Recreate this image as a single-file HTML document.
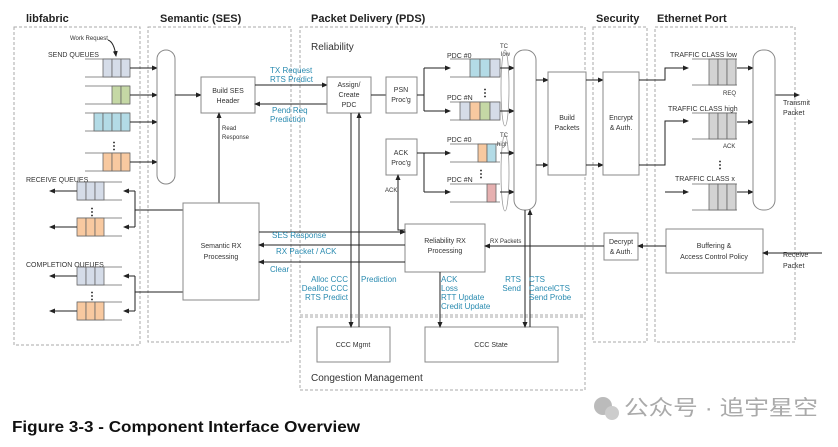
<!DOCTYPE html>
<html><head><meta charset="utf-8"><style>
html,body{margin:0;padding:0;background:#fff;}
svg{display:block;font-family:"Liberation Sans",sans-serif;}
.b{fill:#fff;stroke:#888;stroke-width:1}
.d{fill:none;stroke:#aaa;stroke-width:1;stroke-dasharray:3,2}
.l{stroke:#222;stroke-width:1;fill:none}
.t{font-size:7px;fill:#333}
.s{font-size:6px;fill:#333}
.c{font-size:8px;fill:#2a8bb0}
.h{font-size:11px;font-weight:bold;fill:#222}
</style></head><body>
<svg width="838" height="447" viewBox="0 0 838 447">
<defs><marker id="a" markerWidth="6" markerHeight="6" refX="5" refY="3" orient="auto"><path d="M0,0.5L6,3L0,5.5z" fill="#222"/></marker></defs>
<!-- panels -->
<rect class="d" x="14" y="27" width="126" height="318"/>
<rect class="d" x="148" y="27" width="143" height="315"/>
<rect class="d" x="300" y="27" width="285" height="288"/>
<rect class="d" x="300" y="317" width="285" height="73"/>
<rect class="d" x="593" y="27" width="54" height="315"/>
<rect class="d" x="655" y="27" width="140" height="315"/>
<text class="h" x="26" y="22">libfabric</text>
<text class="h" x="160" y="22">Semantic (SES)</text>
<text class="h" x="311" y="22">Packet Delivery (PDS)</text>
<text class="h" x="596" y="22">Security</text>
<text class="h" x="657" y="22">Ethernet Port</text>
<text x="311" y="50" style="font-size:10px;fill:#333">Reliability</text>
<text x="311" y="381" style="font-size:10px;fill:#333">Congestion Management</text>

<!-- send queues -->
<text class="s" x="70" y="40">Work Request</text>
<path class="l" d="M108,40 Q114,42 116,56" marker-end="url(#a)"/>
<text class="t" x="48" y="57">SEND QUEUES</text>
<g stroke="#666" stroke-width="0.8">
<line x1="85" y1="59" x2="130" y2="59"/><line x1="85" y1="77" x2="130" y2="77"/>
<rect x="103" y="59" width="9" height="18" fill="#d5dce8"/><rect x="112" y="59" width="9" height="18" fill="#d5dce8"/><rect x="121" y="59" width="9" height="18" fill="#d5dce8"/>
<line x1="85" y1="86" x2="130" y2="86"/><line x1="85" y1="104" x2="130" y2="104"/>
<rect x="112" y="86" width="9" height="18" fill="#c5d8a5"/><rect x="121" y="86" width="9" height="18" fill="#c5d8a5"/>
<line x1="85" y1="113" x2="130" y2="113"/><line x1="85" y1="131" x2="130" y2="131"/>
<rect x="94" y="113" width="9" height="18" fill="#b3dbe6"/><rect x="103" y="113" width="9" height="18" fill="#b3dbe6"/><rect x="112" y="113" width="9" height="18" fill="#b3dbe6"/><rect x="121" y="113" width="9" height="18" fill="#b3dbe6"/>
<line x1="85" y1="153" x2="130" y2="153"/><line x1="85" y1="171" x2="130" y2="171"/>
<rect x="103" y="153" width="9" height="18" fill="#f8c9a0"/><rect x="112" y="153" width="9" height="18" fill="#f8c9a0"/><rect x="121" y="153" width="9" height="18" fill="#f8c9a0"/>
</g>
<text x="109" y="149" style="font-size:10px;font-weight:bold">⋮</text>
<g class="l"><line x1="130" y1="68" x2="157" y2="68" marker-end="url(#a)"/><line x1="130" y1="95" x2="157" y2="95" marker-end="url(#a)"/><line x1="130" y1="122" x2="157" y2="122" marker-end="url(#a)"/><line x1="130" y1="162" x2="157" y2="162" marker-end="url(#a)"/></g>
<rect class="b" x="157" y="50" width="18" height="134" rx="9"/>
<line class="l" x1="175" y1="95" x2="201" y2="95" marker-end="url(#a)"/>
<rect class="b" x="201" y="77" width="54" height="36"/>
<text class="t" x="228" y="93" text-anchor="middle">Build SES</text><text class="t" x="228" y="103" text-anchor="middle">Header</text>
<line class="l" x1="255" y1="85" x2="327" y2="85" marker-end="url(#a)"/>
<line class="l" x1="327" y1="104" x2="255" y2="104" marker-end="url(#a)"/>
<text class="c" x="270" y="73">TX Request</text><text class="c" x="270" y="82">RTS Predict</text>
<text class="c" x="272" y="113">Pend Req</text><text class="c" x="270" y="122">Prediction</text>
<line class="l" x1="219" y1="203" x2="219" y2="113" marker-end="url(#a)"/>
<text class="s" x="222" y="130">Read</text><text class="s" x="222" y="139">Response</text>

<!-- receive / completion queues -->
<text class="t" x="26" y="182">RECEIVE QUEUES</text>
<text class="t" x="26" y="267">COMPLETION QUEUES</text>
<g stroke="#666" stroke-width="0.8">
<line x1="77" y1="182" x2="122" y2="182"/><line x1="77" y1="200" x2="122" y2="200"/>
<rect x="77" y="182" width="9" height="18" fill="#d5dce8"/><rect x="86" y="182" width="9" height="18" fill="#d5dce8"/><rect x="95" y="182" width="9" height="18" fill="#d5dce8"/>
<line x1="77" y1="218" x2="122" y2="218"/><line x1="77" y1="236" x2="122" y2="236"/>
<rect x="77" y="218" width="9" height="18" fill="#f8c9a0"/><rect x="86" y="218" width="9" height="18" fill="#f8c9a0"/><rect x="95" y="218" width="9" height="18" fill="#f8c9a0"/>
<line x1="77" y1="267" x2="122" y2="267"/><line x1="77" y1="285" x2="122" y2="285"/>
<rect x="77" y="267" width="9" height="18" fill="#d5dce8"/><rect x="86" y="267" width="9" height="18" fill="#d5dce8"/><rect x="95" y="267" width="9" height="18" fill="#d5dce8"/>
<line x1="77" y1="302" x2="122" y2="302"/><line x1="77" y1="320" x2="122" y2="320"/>
<rect x="77" y="302" width="9" height="18" fill="#f8c9a0"/><rect x="86" y="302" width="9" height="18" fill="#f8c9a0"/><rect x="95" y="302" width="9" height="18" fill="#f8c9a0"/>
</g>
<text x="87" y="215" style="font-size:10px;font-weight:bold">⋮</text>
<text x="87" y="299" style="font-size:10px;font-weight:bold">⋮</text>
<g class="l">
<line x1="77" y1="191" x2="50" y2="191" marker-end="url(#a)"/><line x1="77" y1="227" x2="50" y2="227" marker-end="url(#a)"/>
<line x1="77" y1="276" x2="50" y2="276" marker-end="url(#a)"/><line x1="77" y1="311" x2="50" y2="311" marker-end="url(#a)"/>
<path d="M135,191V227"/><line x1="135" y1="191" x2="124" y2="191" marker-end="url(#a)"/><line x1="135" y1="227" x2="124" y2="227" marker-end="url(#a)"/>
<path d="M135,276V311"/><line x1="135" y1="276" x2="124" y2="276" marker-end="url(#a)"/><line x1="135" y1="311" x2="124" y2="311" marker-end="url(#a)"/>
<line x1="135" y1="210" x2="183" y2="210"/><line x1="135" y1="292" x2="183" y2="292"/>
</g>
<rect class="b" x="183" y="203" width="76" height="97"/>
<text class="t" x="221" y="248" text-anchor="middle">Semantic RX</text><text class="t" x="221" y="259" text-anchor="middle">Processing</text>

<!-- Reliability RX -->
<rect class="b" x="405" y="224" width="80" height="48"/>
<text class="t" x="445" y="243" text-anchor="middle">Reliability RX</text><text class="t" x="445" y="253" text-anchor="middle">Processing</text>
<g class="l">
<line x1="259" y1="232" x2="405" y2="232" marker-end="url(#a)"/>
<line x1="405" y1="245" x2="259" y2="245" marker-end="url(#a)"/>
<line x1="405" y1="262" x2="259" y2="262" marker-end="url(#a)"/>
</g>
<text class="c" x="272" y="238">SES Response</text>
<text class="c" x="276" y="254">RX Packet / ACK</text>
<text class="c" x="270" y="272">Clear</text>

<!-- Assign / PSN / ACK -->
<rect class="b" x="327" y="77" width="44" height="36"/>
<text class="t" x="349" y="87" text-anchor="middle">Assign/</text><text class="t" x="349" y="97" text-anchor="middle">Create</text><text class="t" x="349" y="107" text-anchor="middle">PDC</text>
<line class="l" x1="371" y1="95" x2="386" y2="95"/>
<rect class="b" x="386" y="77" width="31" height="36"/>
<text class="t" x="401" y="92" text-anchor="middle">PSN</text><text class="t" x="401" y="102" text-anchor="middle">Proc'g</text>
<rect class="b" x="386" y="139" width="31" height="36"/>
<text class="t" x="401" y="155" text-anchor="middle">ACK</text><text class="t" x="401" y="165" text-anchor="middle">Proc'g</text>
<g class="l">
<path d="M417,95H424V68"/><path d="M424,95V111"/><line x1="424" y1="68" x2="450" y2="68" marker-end="url(#a)"/><line x1="424" y1="111" x2="450" y2="111" marker-end="url(#a)"/>
<path d="M417,153H424V192"/><line x1="424" y1="153" x2="450" y2="153" marker-end="url(#a)"/><line x1="424" y1="192" x2="450" y2="192" marker-end="url(#a)"/>
<path d="M405,230H398V175" marker-end="url(#a)"/>
</g>
<text class="s" x="385" y="192">ACK</text>
<!-- PDC queues -->
<text class="t" x="447" y="58">PDC #0</text><text class="t" x="447" y="100">PDC #N</text>
<text class="t" x="447" y="142">PDC #0</text><text class="t" x="447" y="182">PDC #N</text>
<g stroke="#666" stroke-width="0.8">
<line x1="450" y1="59" x2="500" y2="59"/><line x1="450" y1="77" x2="500" y2="77"/>
<rect x="470" y="59" width="10" height="18" fill="#b3dbe6"/><rect x="480" y="59" width="10" height="18" fill="#b3dbe6"/><rect x="490" y="59" width="10" height="18" fill="#d5dce8"/>
<line x1="450" y1="102" x2="500" y2="102"/><line x1="450" y1="120" x2="500" y2="120"/>
<rect x="460" y="102" width="10" height="18" fill="#d5dce8"/><rect x="470" y="102" width="10" height="18" fill="#f8c9a0"/><rect x="480" y="102" width="10" height="18" fill="#c5d8a5"/><rect x="490" y="102" width="10" height="18" fill="#d5dce8"/>
<line x1="450" y1="144" x2="500" y2="144"/><line x1="450" y1="162" x2="500" y2="162"/>
<rect x="478" y="144" width="9" height="18" fill="#f8c9a0"/><rect x="487" y="144" width="9" height="18" fill="#b3dbe6"/>
<line x1="450" y1="184" x2="500" y2="184"/><line x1="450" y1="202" x2="500" y2="202"/>
<rect x="487" y="184" width="9" height="18" fill="#e6b0b0"/>
</g>
<text x="480" y="96" style="font-size:10px;font-weight:bold">⋮</text>
<text x="476" y="177" style="font-size:10px;font-weight:bold">⋮</text>
<text class="s" x="500" y="48">TC</text><text class="s" x="501" y="56">low</text>
<text class="s" x="500" y="137">TC</text><text class="s" x="497" y="146">high</text>
<ellipse cx="505" cy="88" rx="4" ry="38" fill="none" stroke="#999" stroke-width="0.8"/>
<ellipse cx="505" cy="173" rx="4" ry="38" fill="none" stroke="#999" stroke-width="0.8"/>
<g class="l">
<line x1="500" y1="68" x2="514" y2="68" marker-end="url(#a)"/><line x1="500" y1="111" x2="514" y2="111" marker-end="url(#a)"/>
<line x1="500" y1="153" x2="514" y2="153" marker-end="url(#a)"/><line x1="500" y1="192" x2="514" y2="192" marker-end="url(#a)"/>
</g>
<rect class="b" x="514" y="50" width="22" height="160" rx="10"/>
<g class="l"><line x1="536" y1="80" x2="548" y2="80" marker-end="url(#a)"/><line x1="536" y1="165" x2="548" y2="165" marker-end="url(#a)"/></g>
<rect class="b" x="548" y="72" width="38" height="103"/>
<text class="t" x="567" y="120" text-anchor="middle">Build</text><text class="t" x="567" y="130" text-anchor="middle">Packets</text>
<g class="l"><line x1="586" y1="80" x2="603" y2="80" marker-end="url(#a)"/><line x1="586" y1="165" x2="603" y2="165" marker-end="url(#a)"/></g>
<rect class="b" x="603" y="72" width="36" height="103"/>
<text class="t" x="621" y="120" text-anchor="middle">Encrypt</text><text class="t" x="621" y="130" text-anchor="middle">&amp; Auth.</text>
<g class="l">
<path d="M639,80H665V68H688" marker-end="url(#a)"/>
<path d="M639,165H665V121H688" marker-end="url(#a)"/>
<line x1="665" y1="192" x2="688" y2="192" marker-end="url(#a)"/>
</g>
<!-- traffic classes -->
<text class="t" x="670" y="57">TRAFFIC CLASS low</text>
<text class="t" x="668" y="111">TRAFFIC CLASS high</text>
<text class="t" x="675" y="181">TRAFFIC CLASS x</text>
<g stroke="#666" stroke-width="0.8">
<line x1="692" y1="59" x2="737" y2="59"/><line x1="692" y1="85" x2="737" y2="85"/>
<rect x="709" y="59" width="9" height="26" fill="#d3d3d3"/><rect x="718" y="59" width="9" height="26" fill="#d3d3d3"/><rect x="727" y="59" width="9" height="26" fill="#d3d3d3"/>
<line x1="692" y1="113" x2="737" y2="113"/><line x1="692" y1="139" x2="737" y2="139"/>
<rect x="709" y="113" width="9" height="26" fill="#d3d3d3"/><rect x="718" y="113" width="9" height="26" fill="#d3d3d3"/><rect x="727" y="113" width="9" height="26" fill="#d3d3d3"/>
<line x1="692" y1="184" x2="737" y2="184"/><line x1="692" y1="210" x2="737" y2="210"/>
<rect x="709" y="184" width="9" height="26" fill="#d3d3d3"/><rect x="718" y="184" width="9" height="26" fill="#d3d3d3"/><rect x="727" y="184" width="9" height="26" fill="#d3d3d3"/>
</g>
<text class="s" x="723" y="95">REQ</text><text class="s" x="723" y="148">ACK</text>
<text x="715" y="168" style="font-size:10px;font-weight:bold">⋮</text>
<g class="l"><line x1="737" y1="68" x2="753" y2="68" marker-end="url(#a)"/><line x1="737" y1="122" x2="753" y2="122" marker-end="url(#a)"/><line x1="737" y1="192" x2="753" y2="192" marker-end="url(#a)"/>
<line x1="775" y1="95" x2="799" y2="95" marker-end="url(#a)"/></g>
<rect class="b" x="753" y="50" width="22" height="160" rx="10"/>
<text class="t" x="783" y="105">Transmit</text><text class="t" x="783" y="115">Packet</text>

<!-- receive path -->
<rect class="b" x="604" y="233" width="34" height="27"/>
<text class="t" x="621" y="244" text-anchor="middle">Decrypt</text><text class="t" x="621" y="254" text-anchor="middle">&amp; Auth.</text>
<rect class="b" x="666" y="229" width="97" height="44"/>
<text class="t" x="714" y="248" text-anchor="middle">Buffering &amp;</text><text class="t" x="714" y="259" text-anchor="middle">Access Control Policy</text>
<text class="t" x="783" y="257">Receive</text><text class="t" x="783" y="268">Packet</text>
<g class="l">
<line x1="822" y1="253" x2="763" y2="253" marker-end="url(#a)"/>
<line x1="666" y1="246" x2="638" y2="246" marker-end="url(#a)"/>
<line x1="604" y1="246" x2="485" y2="246" marker-end="url(#a)"/>
</g>
<text class="s" x="490" y="243">RX Packets</text>

<!-- congestion -->
<rect class="b" x="317" y="327" width="73" height="35"/>
<text class="t" x="353" y="347" text-anchor="middle">CCC Mgmt</text>
<rect class="b" x="425" y="327" width="133" height="35"/>
<text class="t" x="491" y="347" text-anchor="middle">CCC State</text>
<g class="l">
<line x1="351" y1="113" x2="351" y2="327" marker-end="url(#a)"/>
<line x1="359" y1="327" x2="359" y2="113" marker-end="url(#a)"/>
<line x1="440" y1="272" x2="440" y2="327" marker-end="url(#a)"/>
<line x1="525" y1="210" x2="525" y2="327" marker-end="url(#a)"/>
<line x1="530" y1="327" x2="530" y2="210" marker-end="url(#a)"/>
</g>
<text class="c" x="348" y="282" text-anchor="end">Alloc CCC</text><text class="c" x="348" y="291" text-anchor="end">Dealloc CCC</text><text class="c" x="348" y="300" text-anchor="end">RTS Predict</text>
<text class="c" x="361" y="282">Prediction</text>
<text class="c" x="441" y="282">ACK</text><text class="c" x="441" y="291">Loss</text><text class="c" x="441" y="300">RTT Update</text><text class="c" x="441" y="309">Credit Update</text>
<text class="c" x="521" y="282" text-anchor="end">RTS</text><text class="c" x="521" y="291" text-anchor="end">Send</text>
<text class="c" x="529" y="282">CTS</text><text class="c" x="529" y="291">CancelCTS</text><text class="c" x="529" y="300">Send Probe</text>

<text x="12" y="432" textLength="348" lengthAdjust="spacingAndGlyphs" style="font-size:16px;font-weight:bold;fill:#111">Figure 3-3 - Component Interface Overview</text>
<circle cx="603" cy="406" r="9" fill="#bbb"/><circle cx="612" cy="413" r="7" fill="#ccc"/>
<text x="624" y="415" textLength="194" lengthAdjust="spacingAndGlyphs" style="font-family:'Liberation Sans','Noto Sans CJK SC',sans-serif;font-size:21px;fill:#aaa">公众号 · 追宇星空</text>
</svg>
</body></html>
